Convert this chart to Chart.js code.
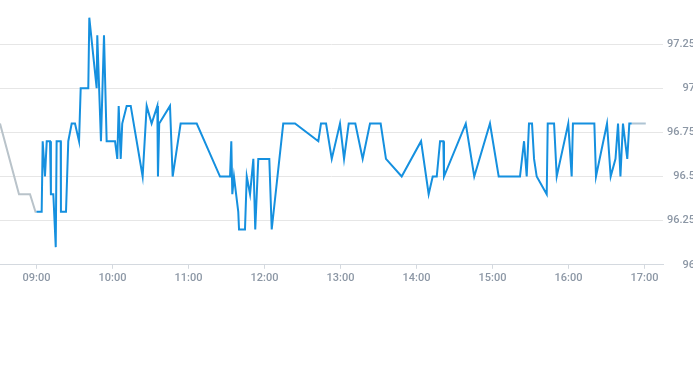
<!DOCTYPE html>
<html>
<head>
<meta charset="utf-8">
<script src="https://cdn.jsdelivr.net/npm/chart.js@4/dist/chart.umd.min.js"></script>
<style>
  html, body { margin: 0; padding: 0; background: #fff; overflow: hidden; }
  #wrap { position: relative; width: 695px; height: 365px; }
</style>
</head>
<body>
<div id="wrap"><canvas id="priceChart"></canvas></div>
<script>
// regular session
const sessionTimes = [
  '09:00:00', '09:04:06', '09:04:54', '09:06:42', '09:08:06', '09:10:42', '09:11:24', '09:13:18',
  '09:15:12', '09:15:54', '09:19:06', '09:19:18', '09:23:18', '09:25:06', '09:27:48', '09:30:24',
  '09:33:36', '09:34:54', '09:40:54', '09:41:42', '09:47:30', '09:48:00', '09:50:54', '09:53:18',
  '09:55:24', '10:02:00', '10:03:48', '10:04:54', '10:06:30', '10:07:42', '10:11:12', '10:14:24',
  '10:23:48', '10:27:00', '10:30:54', '10:35:24', '10:35:54', '10:36:54', '10:45:24', '10:47:30',
  '10:53:48', '11:06:30', '11:24:54', '11:32:48', '11:33:48', '11:34:36', '11:35:54', '11:39:18',
  '11:39:54', '11:44:36', '11:46:00', '11:48:36', '11:51:12', '11:52:42', '11:55:06', '12:03:48',
  '12:05:42', '12:14:48', '12:24:06', '12:42:30', '12:44:36', '12:48:36', '12:53:06', '12:59:36',
  '13:02:48', '13:06:30', '13:11:42', '13:17:30', '13:23:18', '13:31:42', '13:35:54', '13:48:18',
  '14:03:36', '14:09:36', '14:12:48', '14:16:00', '14:18:36', '14:21:12', '14:21:42', '14:38:54',
  '14:45:36', '14:58:00', '15:04:54', '15:21:42', '15:24:54', '15:27:00', '15:28:48', '15:31:12',
  '15:32:48', '15:34:54', '15:42:48', '15:43:36', '15:48:36', '15:50:42', '15:59:48', '16:02:30',
  '16:03:30', '16:20:24', '16:21:42', '16:30:24', '16:33:18', '16:37:06', '16:39:06', '16:41:00',
  '16:43:00', '16:46:24', '16:48:00', '16:49:54'
];
const sessionPrices = [
  96.3, 96.3, 96.7, 96.5, 96.7, 96.7, 96.4, 96.4,
  96.1, 96.7, 96.7, 96.3, 96.3, 96.7, 96.8, 96.8,
  96.7, 97.0, 97.0, 97.4, 97.0, 97.3, 96.7, 97.3,
  96.7, 96.7, 96.6, 96.9, 96.6, 96.8, 96.9, 96.9,
  96.5, 96.9, 96.8, 96.9, 96.5, 96.8, 96.9, 96.5,
  96.8, 96.8, 96.5, 96.5, 96.7, 96.4, 96.5, 96.3,
  96.2, 96.2, 96.5, 96.4, 96.6, 96.2, 96.6, 96.6,
  96.2, 96.8, 96.8, 96.7, 96.8, 96.8, 96.6, 96.8,
  96.6, 96.8, 96.8, 96.6, 96.8, 96.8, 96.6, 96.5,
  96.7, 96.4, 96.5, 96.5, 96.7, 96.7, 96.5, 96.8,
  96.5, 96.8, 96.5, 96.5, 96.7, 96.5, 96.8, 96.8,
  96.6, 96.5, 96.4, 96.8, 96.8, 96.5, 96.8, 96.5,
  96.8, 96.8, 96.5, 96.8, 96.5, 96.6, 96.8, 96.5,
  96.8, 96.6, 96.8, 96.8
];

// before open / after close
const preTimes = ['08:31:12', '08:46:12', '08:54:54', '08:59:12', '09:00:00'];
const prePrices = [96.8, 96.4, 96.4, 96.3, 96.3];
const postTimes = ['16:49:54', '17:01:00'];
const postPrices = [96.8, 96.8];

const hourTicks = [540, 600, 660, 720, 780, 840, 900, 960, 1020];
const hourLabels = ['09:00', '10:00', '11:00', '12:00', '13:00', '14:00', '15:00', '16:00', '17:00'];
const priceTicks = [96, 96.25, 96.5, 96.75, 97, 97.25];

function toMinutes(t) {
    const p = t.split(':').map(Number);
    return p[0] * 60 + p[1] + (p[2] || 0) / 60;
}

function points(times, prices) {
    return times.map((t, i) => ({ x: toMinutes(t), y: prices[i] }));
}

const tickColor = '#8c97a5';
const tickFont = { family: 'Roboto', size: 11, weight: '500' };

new Chart(document.getElementById('priceChart'), {
    type: 'line',
    data: {
        datasets: [
            {
                label: 'Price',
                data: points(sessionTimes, sessionPrices),
                borderColor: '#1590df',
                borderWidth: 2,
                pointRadius: 0,
                tension: 0
            },
            {
                label: 'Pre',
                data: points(preTimes, prePrices),
                borderColor: '#b9c3ca',
                borderWidth: 2,
                pointRadius: 0,
                tension: 0
            },
            {
                label: 'Post',
                data: points(postTimes, postPrices),
                borderColor: '#aec4d3',
                borderWidth: 2,
                pointRadius: 0,
                tension: 0
            }
        ]
    },
    options: {
        responsive: true,
        maintainAspectRatio: false,
        animation: false,
        layout: { padding: { top: 0, left: 0, right: 0, bottom: 77 } },
        plugins: {
            legend: { display: false },
            tooltip: { enabled: false }
        },
        scales: {
            x: {
                type: 'linear',
                min: 511.2,
                max: 1034.6,
                afterBuildTicks: axis => { axis.ticks = hourTicks.map(v => ({ value: v })); },
                grid: {
                    drawOnChartArea: false,
                    tickLength: 4,
                    color: '#d4d9df'
                },
                border: { color: '#d4d9df' },
                ticks: {
                    color: tickColor,
                    font: tickFont,
                    padding: 3,
                    maxRotation: 0,
                    callback: v => hourLabels[hourTicks.indexOf(v)]
                }
            },
            y: {
                position: 'right',
                min: 96,
                max: 97.5,
                afterBuildTicks: axis => { axis.ticks = priceTicks.map(v => ({ value: v })); },
                afterFit: axis => {
                    axis.width = 32;
                    axis.paddingTop = 0;
                    axis.paddingBottom = 0;
                },
                grid: {
                    color: '#e6e6e6',
                    drawTicks: false
                },
                border: { display: false },
                ticks: {
                    color: tickColor,
                    font: tickFont,
                    padding: 4,
                    crossAlign: 'far',
                    callback: v => String(v)
                }
            }
        }
    }
});
</script>
</body>
</html>
